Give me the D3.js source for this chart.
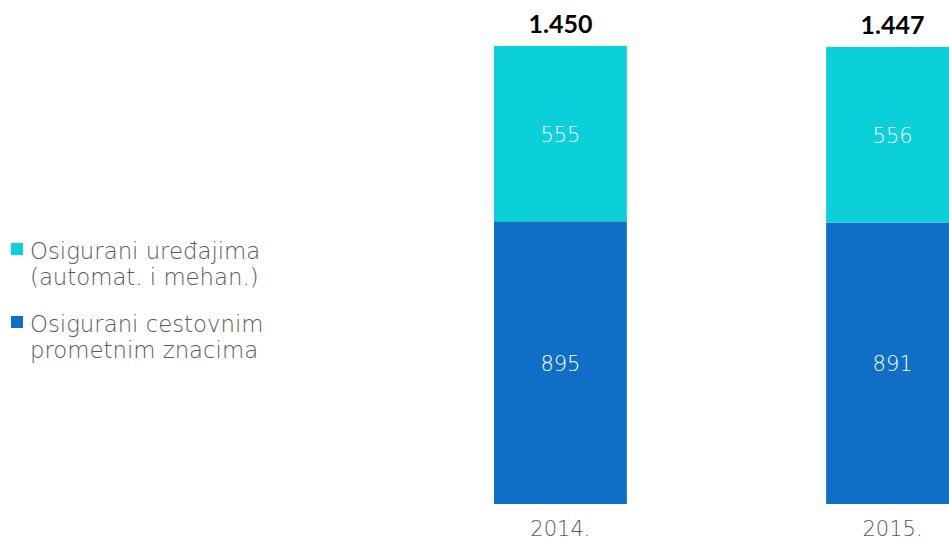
<!DOCTYPE html>
<html>
<head>
<meta charset="utf-8">
<script src="https://cdn.jsdelivr.net/npm/d3@7"></script>
<style>
  body { margin: 0; background: #fff; }
  text { font-family: "DejaVu Sans", sans-serif; font-weight: 200; }
</style>
</head>
<body>
<div id="chart"></div>
<script>
// data
const years = ['2014.', '2015.'];
const keys = ['znacima', 'uredajima'];
const znacima = [895, 891];
const uredajima = [555, 556];
const totals = ['1.450', '1.447'];
const legendLabels = [
  ['Osigurani uređajima', '(automat. i mehan.)'],
  ['Osigurani cestovnim', 'prometnim znacima']
];

const chartWidth = 949;
const chartHeight = 546;
const color = d3.scaleOrdinal().domain(keys).range(['#0F6FC6', '#0BD0D9']);

const rows = years.map((y, i) => ({ year: y, znacima: znacima[i], uredajima: uredajima[i] }));
const series = d3.stack().keys(keys)(rows);

const x = d3.scaleBand()
  .domain(years)
  .range([494, 959])
  .paddingInner(0.6)
  .paddingOuter(0);

const y = d3.scaleLinear()
  .domain([0, 1450])
  .range([504, 46]);

const svg = d3.select('#chart')
  .append('svg')
  .attr('width', chartWidth)
  .attr('height', chartHeight);

// bars
const layer = svg.selectAll('g.layer')
  .data(series)
  .enter()
  .append('g')
  .attr('class', 'layer')
  .attr('fill', d => color(d.key));

layer.selectAll('rect')
  .data(d => d)
  .enter()
  .append('rect')
  .attr('x', d => x(d.data.year))
  .attr('y', d => y(d[1]))
  .attr('width', x.bandwidth())
  .attr('height', d => y(d[0]) - y(d[1]));

// values inside bars
layer.selectAll('text')
  .data(d => d)
  .enter()
  .append('text')
  .attr('x', d => x(d.data.year) + x.bandwidth() / 2)
  .attr('y', d => (y(d[0]) + y(d[1])) / 2 + 8)
  .attr('text-anchor', 'middle')
  .attr('fill', '#fff')
  .attr('font-size', 21)
  .text(d => d[1] - d[0]);

// totals
svg.selectAll('text.total')
  .data(rows)
  .enter()
  .append('text')
  .attr('class', 'total')
  .attr('x', d => x(d.year) + x.bandwidth() / 2)
  .attr('y', (d, i) => y(znacima[i] + uredajima[i]) - 13)
  .attr('text-anchor', 'middle')
  .style('font-family', '"Lato", sans-serif')
  .style('font-size', '25px')
  .style('font-weight', 'bold')
  .attr('fill', '#000')
  .text((d, i) => totals[i]);

// x axis labels
const xAxis = d3.axisBottom(x).tickSize(0).tickPadding(17);
svg.append('g')
  .attr('transform', 'translate(0,504)')
  .call(xAxis)
  .call(g => g.select('.domain').remove())
  .selectAll('text')
  .style('font-family', '"DejaVu Sans", sans-serif')
  .style('font-size', '21px')
  .attr('fill', '#595959');

// legend
const legend = svg.selectAll('g.legend')
  .data(['uredajima', 'znacima'])
  .enter()
  .append('g')
  .attr('class', 'legend')
  .attr('transform', (d, i) => `translate(11, ${243 + i * 73})`);

legend.append('rect')
  .attr('width', 12)
  .attr('height', 12)
  .attr('fill', d => color(d));

legend.append('text')
  .attr('x', 19)
  .attr('y', 16)
  .attr('font-size', 22.8)
  .attr('fill', '#595959')
  .selectAll('tspan')
  .data((d, i) => legendLabels[i])
  .enter()
  .append('tspan')
  .attr('x', 19)
  .attr('dy', (d, i) => i ? 26 : 0)
  .text(d => d);
</script>
</body>
</html>
